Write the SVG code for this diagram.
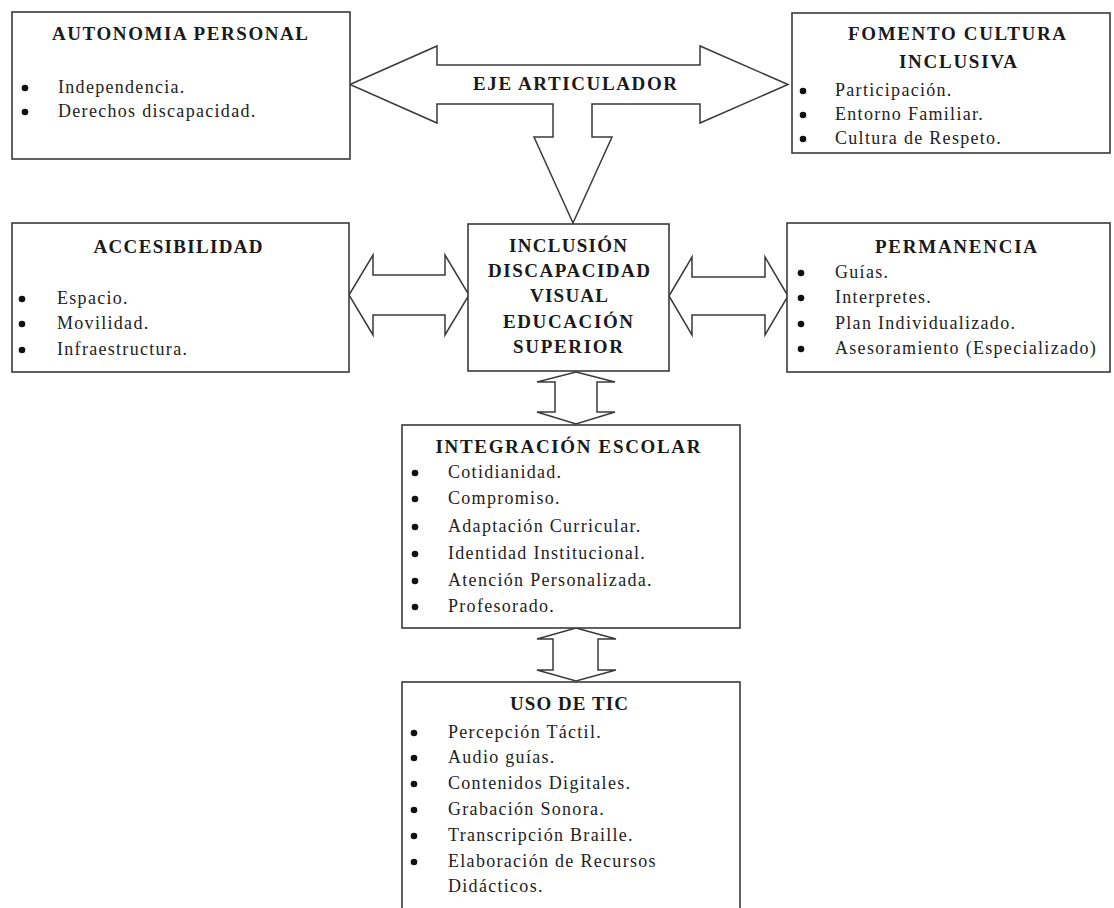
<svg xmlns="http://www.w3.org/2000/svg" width="1114" height="908" viewBox="0 0 1114 908">
<style>
.box{fill:#fff;stroke:#3a3a3a;stroke-width:1.6}
.arr{fill:#fff;stroke:#3a3a3a;stroke-width:1.5;stroke-linejoin:miter}
.t{font-family:"Liberation Serif","Times New Roman",serif;font-weight:bold;font-size:19px;fill:#1a1a1a;text-anchor:middle}
.b{font-family:"Liberation Serif","Times New Roman",serif;font-size:18px;fill:#222;letter-spacing:1.3px}
.d{fill:#111}
</style>
<rect width="1114" height="908" fill="#fff"/>
<g id="connectors">
<path class="arr" d="M350,84.5 L437,46 L437,65 L700,65 L700,46 L788,84.5 L700,123 L700,104 L592,104 L592,137 L612,137 L573,223 L534,137 L553,137 L553,104 L437,104 L437,123 Z"/>
<text class="t" x="575" y="90" textLength="204" lengthAdjust="spacing">EJE ARTICULADOR</text>
<path class="arr" d="M349,295 L373,255 L373,275 L445,275 L445,255 L469,295 L445,335 L445,315 L373,315 L373,335 Z"/>
<path class="arr" d="M669,296 L692,257 L692,277 L765,277 L765,257 L788,296 L765,335 L765,315 L692,315 L692,335 Z"/>
<path class="arr" d="M576,372 L615,382 L597,382 L597,412 L615,412 L576,424 L537,412 L555,412 L555,382 L537,382 Z"/>
<path class="arr" d="M576,628 L616,639 L598,639 L598,670 L616,670 L576,681 L537,670 L553,670 L553,639 L537,639 Z"/>
</g>
<g id="autonomia">
<rect class="box" x="12" y="12" width="338" height="147"/>
<text class="t" x="180" y="40" textLength="256" lengthAdjust="spacing">AUTONOMIA PERSONAL</text>
<circle class="d" cx="25" cy="88" r="3.3"/><text class="b" x="58" y="93">Independencia.</text>
<circle class="d" cx="25" cy="112" r="3.3"/><text class="b" x="58" y="117">Derechos discapacidad.</text>
</g>
<g id="fomento">
<rect class="box" x="792" y="13" width="318" height="140"/>
<text class="t" x="957" y="40" textLength="218" lengthAdjust="spacing">FOMENTO CULTURA</text>
<text class="t" x="958" y="68" textLength="118" lengthAdjust="spacing">INCLUSIVA</text>
<circle class="d" cx="803" cy="91" r="3.3"/><text class="b" x="835" y="96">Participación.</text>
<circle class="d" cx="803" cy="115" r="3.3"/><text class="b" x="835" y="120">Entorno Familiar.</text>
<circle class="d" cx="803" cy="139" r="3.3"/><text class="b" x="835" y="144">Cultura de Respeto.</text>
</g>
<g id="accesibilidad">
<rect class="box" x="12" y="223" width="337" height="149"/>
<text class="t" x="178" y="253" textLength="169" lengthAdjust="spacing">ACCESIBILIDAD</text>
<circle class="d" cx="22" cy="299" r="3.3"/><text class="b" x="57" y="304">Espacio.</text>
<circle class="d" cx="22" cy="324" r="3.3"/><text class="b" x="57" y="329">Movilidad.</text>
<circle class="d" cx="22" cy="350" r="3.3"/><text class="b" x="57" y="355">Infraestructura.</text>
</g>
<g id="inclusion">
<rect class="box" x="468" y="224" width="201" height="147"/>
<text class="t" x="568" y="252" textLength="118" lengthAdjust="spacing">INCLUSIÓN</text>
<text class="t" x="569" y="277" textLength="162" lengthAdjust="spacing">DISCAPACIDAD</text>
<text class="t" x="569" y="302" textLength="78" lengthAdjust="spacing">VISUAL</text>
<text class="t" x="568" y="328" textLength="130" lengthAdjust="spacing">EDUCACIÓN</text>
<text class="t" x="568" y="353" textLength="110" lengthAdjust="spacing">SUPERIOR</text>
</g>
<g id="permanencia">
<rect class="box" x="787" y="223" width="323" height="149"/>
<text class="t" x="956" y="253" textLength="162" lengthAdjust="spacing">PERMANENCIA</text>
<circle class="d" cx="801" cy="273" r="3.3"/><text class="b" x="835" y="278">Guías.</text>
<circle class="d" cx="801" cy="298" r="3.3"/><text class="b" x="835" y="303">Interpretes.</text>
<circle class="d" cx="801" cy="324" r="3.3"/><text class="b" x="835" y="329">Plan Individualizado.</text>
<circle class="d" cx="801" cy="349" r="3.3"/><text class="b" x="835" y="354">Asesoramiento (Especializado)</text>
</g>
<g id="integracion">
<rect class="box" x="402" y="425" width="338" height="203"/>
<text class="t" x="568" y="453" textLength="265" lengthAdjust="spacing">INTEGRACIÓN ESCOLAR</text>
<circle class="d" cx="415" cy="473" r="3.3"/><text class="b" x="448" y="478">Cotidianidad.</text>
<circle class="d" cx="415" cy="499" r="3.3"/><text class="b" x="448" y="504">Compromiso.</text>
<circle class="d" cx="415" cy="527" r="3.3"/><text class="b" x="448" y="532">Adaptación Curricular.</text>
<circle class="d" cx="415" cy="554" r="3.3"/><text class="b" x="448" y="559">Identidad Institucional.</text>
<circle class="d" cx="415" cy="581" r="3.3"/><text class="b" x="448" y="586">Atención Personalizada.</text>
<circle class="d" cx="415" cy="607" r="3.3"/><text class="b" x="448" y="612">Profesorado.</text>
</g>
<g id="uso-tic">
<rect class="box" x="402" y="682" width="338" height="240"/>
<text class="t" x="569" y="710" textLength="118" lengthAdjust="spacing">USO DE TIC</text>
<circle class="d" cx="414" cy="733" r="3.3"/><text class="b" x="448" y="738">Percepción Táctil.</text>
<circle class="d" cx="414" cy="758" r="3.3"/><text class="b" x="448" y="763">Audio guías.</text>
<circle class="d" cx="414" cy="784" r="3.3"/><text class="b" x="448" y="789">Contenidos Digitales.</text>
<circle class="d" cx="414" cy="810" r="3.3"/><text class="b" x="448" y="815">Grabación Sonora.</text>
<circle class="d" cx="414" cy="836" r="3.3"/><text class="b" x="448" y="841">Transcripción Braille.</text>
<circle class="d" cx="414" cy="862" r="3.3"/><text class="b" x="448" y="867">Elaboración de Recursos</text>
<text class="b" x="448" y="892">Didácticos.</text>
</g>
</svg>
